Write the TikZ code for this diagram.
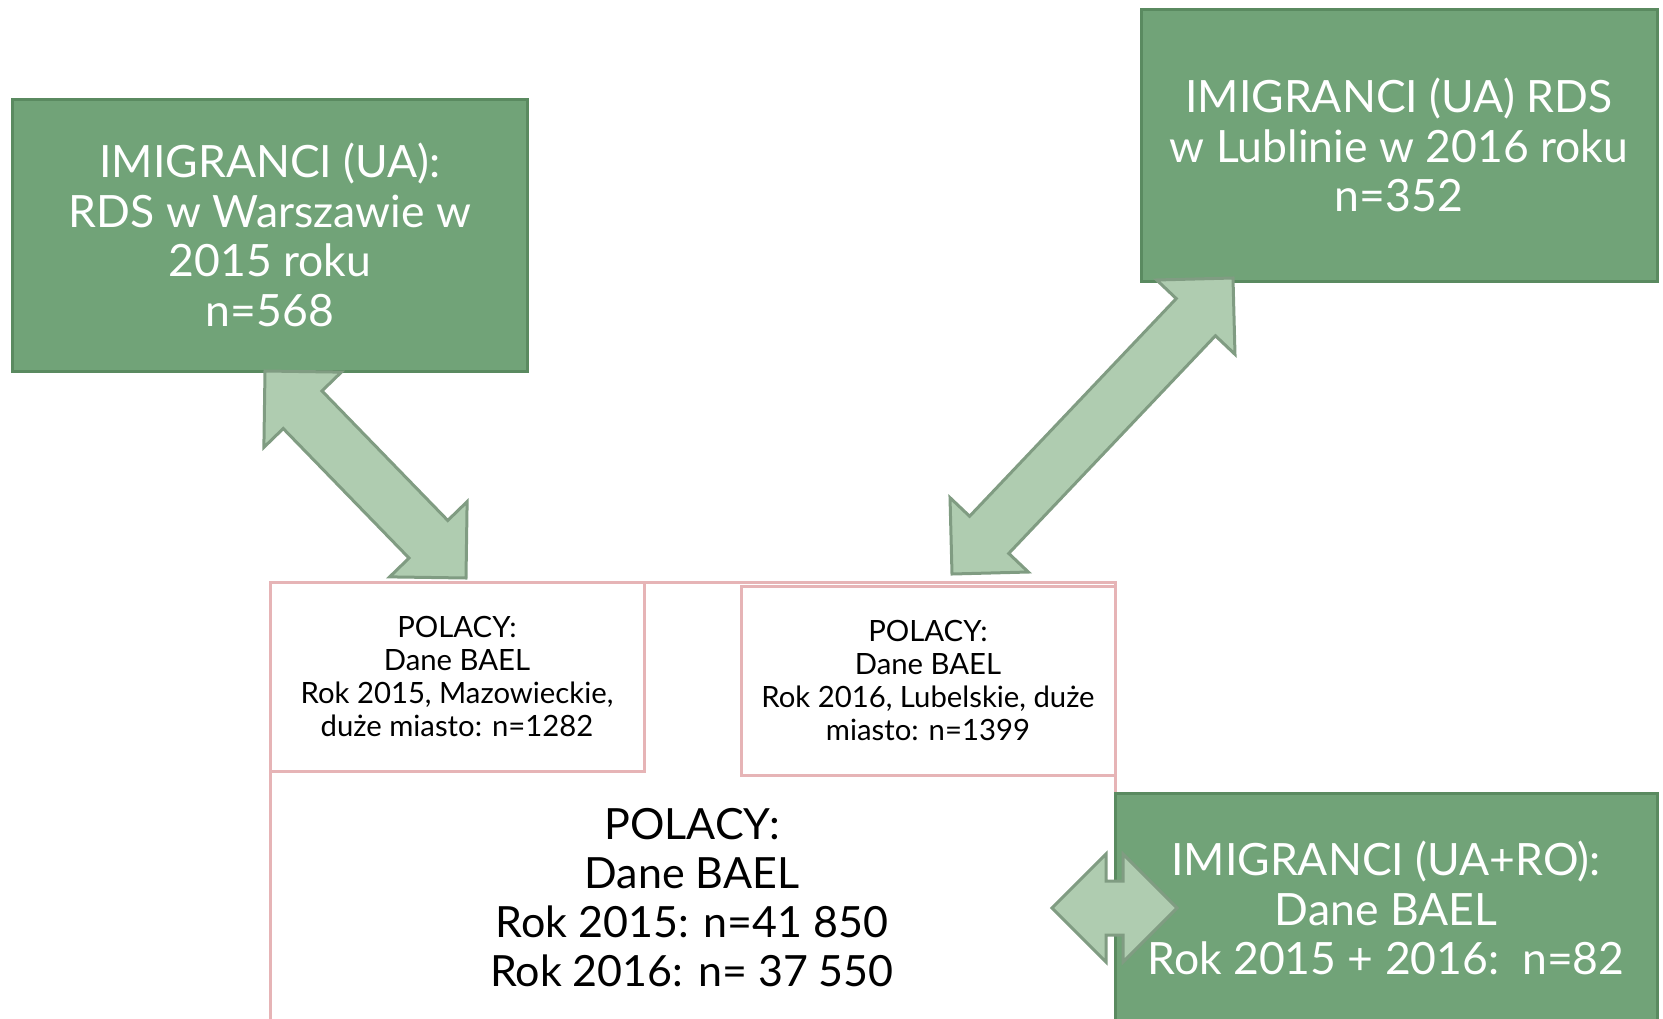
\documentclass[tikz,border=0pt]{standalone}
\usepackage{fontspec}
\setmainfont{Lato}
\usetikzlibrary{calc}

\definecolor{boxgreen}{HTML}{71A378}
\definecolor{boxgreenline}{HTML}{5A8A60}
\definecolor{arrowgreen}{HTML}{AFCCB0}
\definecolor{arrowline}{HTML}{809C82}
\definecolor{pinkline}{HTML}{E6B4B6}

% block arrow with two heads between two points
\newcommand{\twoway}[2]{%
  \draw[blockarr] (#1)
    -- ($(#1)!54pt!(#2)!54pt!90:(#2)$)
    -- ($(#1)!54pt!(#2)!27pt!90:(#2)$)
    -- ($(#2)!54pt!(#1)!27pt!-90:(#1)$)
    -- ($(#2)!54pt!(#1)!54pt!-90:(#1)$)
    -- (#2)
    -- ($(#2)!54pt!(#1)!54pt!90:(#1)$)
    -- ($(#2)!54pt!(#1)!27pt!90:(#1)$)
    -- ($(#1)!54pt!(#2)!27pt!-90:(#2)$)
    -- ($(#1)!54pt!(#2)!54pt!-90:(#2)$)
    -- cycle;}

\begin{document}
\begin{tikzpicture}[x=1pt,y=-1pt,
  greenbox/.style={draw=boxgreenline, fill=boxgreen, line width=3pt, text=white,
    align=center, inner sep=0pt, outer sep=0pt, font=\fontsize{44.5}{49.5}\selectfont},
  pinkbox/.style={draw=pinkline, fill=white, line width=3pt, align=center,
    inner sep=0pt, outer sep=0pt, font=\fontsize{29.3}{33}\selectfont},
  blockarr/.style={fill=arrowgreen, draw=arrowline, line width=3pt, line join=miter}]

  \useasboundingbox (0,0) rectangle (1663,1018);

%%%%%%%%%%%%%%%%%%%%%%%%%%%%%%%%%%%%%%%%%%
  % Polish data (BAEL)
  \node[pinkbox, anchor=north west, minimum width=845pt, minimum height=450pt] (polAll) at (270,582) {};
  \node[pinkbox, anchor=north west, minimum width=374pt, minimum height=189pt] (polMaz) at (270,582)
    {POLACY:\\Dane BAEL\\Rok 2015, Mazowieckie,\\duże miasto: n=1282};
  \node[pinkbox, anchor=north west, minimum width=374pt, minimum height=189pt] (polLub) at (741,586)
    {POLACY:\\Dane BAEL\\Rok 2016, Lubelskie, duże\\miasto: n=1399};
  \node[align=center, font=\fontsize{43}{49}\selectfont] (polTxt) at (692,898)
    {POLACY:\\Dane BAEL\\Rok 2015: n=41 850\\Rok 2016: n= 37 550};

%%%%%%%%%%%%%%%%%%%%%%%%%%%%%%%%%%%%%%%%%%
  % Immigrants
  \node[greenbox, minimum width=515pt, minimum height=272pt] (wars) at (270,235)
    {IMIGRANCI (UA):\\RDS w Warszawie w\\2015 roku\\n=568};
  \node[greenbox, minimum width=516pt, minimum height=272pt] (lub) at (1399,145)
    {IMIGRANCI (UA) RDS\\w Lublinie w 2016 roku\\n=352};
  \node[greenbox, anchor=north west, minimum width=542pt, minimum height=230pt] (mix) at (1115,793)
    {IMIGRANCI (UA+RO):\\Dane BAEL\\Rok 2015 + 2016:\ \ n=82};

%%%%%%%%%%%%%%%%%%%%%%%%%%%%%%%%%%%%%%%%%%
  % Arrow ends
  \coordinate (warsTip) at ([xshift=-5pt]wars.south);
  \coordinate (mazTip) at ([xshift=9pt,yshift=4pt]polMaz.north);
  \coordinate (lubTip) at ([xshift=-166pt,yshift=3pt]lub.south);
  \coordinate (lubPolTip) at ([xshift=24pt,yshift=12pt]polLub.north);
  \coordinate (mixTipL) at ([xshift=-63pt]mix.west);
  \coordinate (mixTipR) at ([xshift=62pt]mix.west);

  % Arrows
  \twoway{warsTip}{mazTip}
  \twoway{lubTip}{lubPolTip}
  \twoway{mixTipL}{mixTipR}

\end{tikzpicture}
\end{document}
